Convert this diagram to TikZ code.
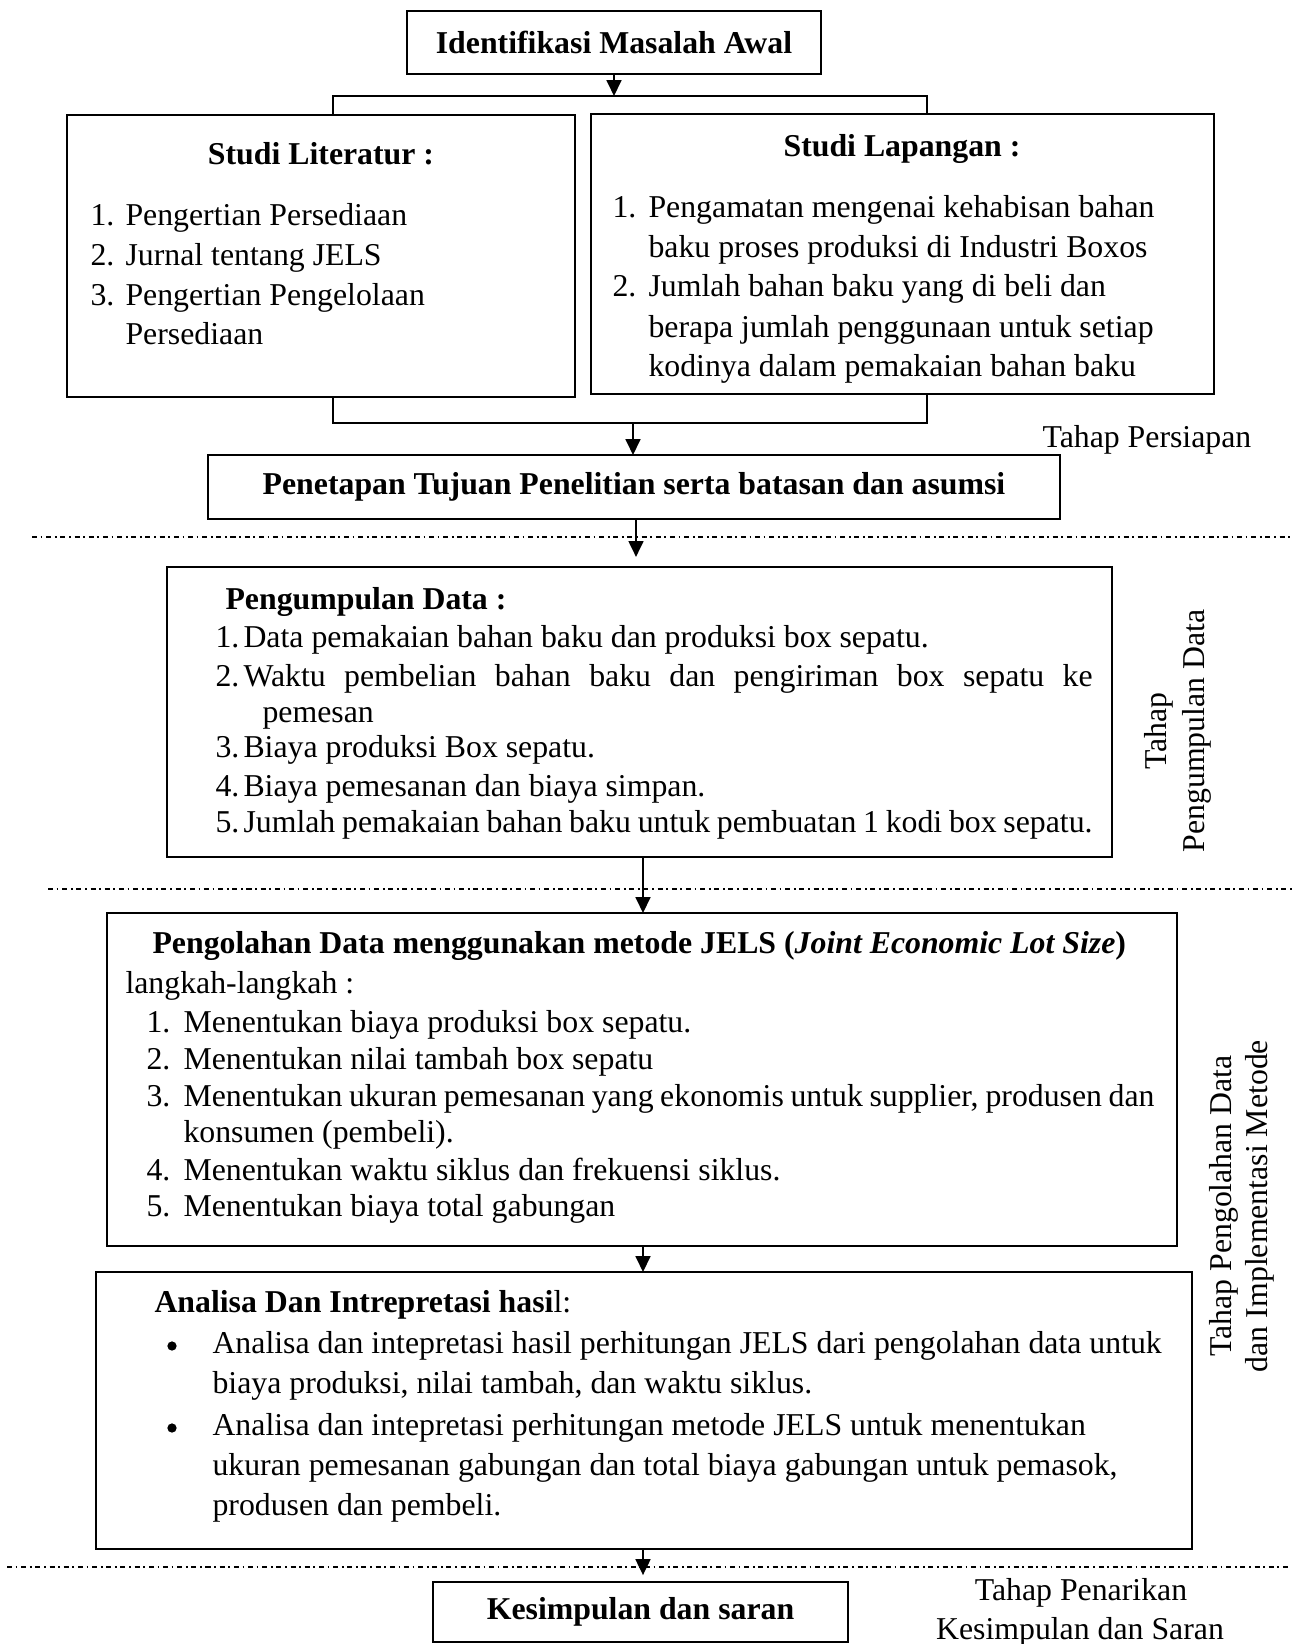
\documentclass[tikz,border=0pt]{standalone}
\usepackage{fontspec}
\setmainfont{Liberation Serif}
\usetikzlibrary{arrows.meta}
\newdimen\pxd \pxd=0.3774pt
\newcommand\myfs{\fontsize{12pt}{14.4pt}\selectfont}
\begin{document}
\begin{tikzpicture}[x=0.3774pt,y=-0.3774pt,
  bx/.style n args={2}{draw, line width=0.9pt, inner sep=0pt, outer sep=0pt, anchor=north west, minimum width=#1*0.3774pt, minimum height=#2*0.3774pt, font=\myfs\bfseries},
  tx/.style={inner sep=0pt, anchor=base west, font=\myfs},
  tc/.style={inner sep=0pt, anchor=base, font=\myfs},
  tbf/.style={inner sep=0pt, anchor=base west, font=\myfs\bfseries},
  bul/.style={circle, fill=black, inner sep=0pt, minimum size=3.5pt},
  ln/.style={line width=0.8pt},
  arr/.style={line width=0.8pt, -{Triangle[width=5.6pt,length=6pt]}},
  sep/.style={line width=0.5pt, dash pattern=on 1.9pt off 1.4pt on 0.65pt off 1.4pt},
  rot/.style={inner sep=0pt, anchor=base, rotate=90, font=\myfs}]
\useasboundingbox (0,0) rectangle (1307,1644);

% separators
\coordinate (s1a) at (32,537);  \coordinate (s1b) at (1293,537);
\coordinate (s2a) at (48,889);  \coordinate (s2b) at (1293,889);
\coordinate (s3a) at (7,1567);  \coordinate (s3b) at (1290,1567);
\draw[sep] (s1a) -- (s1b);
\draw[sep] (s2a) -- (s2b);
\draw[sep] (s3a) -- (s3b);

% boxes
\node[bx={414}{63}] (b1) at (407,11) {Identifikasi Masalah Awal};
\node[bx={508}{282}] (lit) at (67,115) {};
\node[bx={623}{280}] (lap) at (591,114) {};
\node[bx={852}{64}] (tuj) at (208,455) {Penetapan Tujuan Penelitian serta batasan dan asumsi};
\node[bx={945}{290}] (kum) at (167,567) {};
\node[bx={1070}{333}] (olah) at (107,913) {};
\node[bx={1096}{277}] (ana) at (96,1272) {};
\node[bx={415}{60}] (kes) at (433,1582) {Kesimpulan dan saran};

% Studi Literatur
\node[tc, font=\myfs\bfseries] (litT) at (321,164) {Studi Literatur :};
\node[tx] (lit1n) at (90,225) {1.};
\node[tx] (lit1t) at (125,225) {Pengertian Persediaan};
\node[tx] (lit2n) at (90,265) {2.};
\node[tx] (lit2t) at (125,265) {Jurnal tentang JELS};
\node[tx] (lit3n) at (90,305) {3.};
\node[tx] (lit3t) at (125,305) {Pengertian Pengelolaan};
\node[tx] (lit3c) at (125,344) {Persediaan};

% Studi Lapangan
\node[tc, font=\myfs\bfseries] (lapT) at (902,156) {Studi Lapangan :};
\node[tx] (lap1n) at (612,217) {1.};
\node[tx] (lap1t) at (648,217) {Pengamatan mengenai kehabisan bahan};
\node[tx] (lap1c) at (648,257) {baku proses produksi di Industri Boxos};
\node[tx] (lap2n) at (612,296) {2.};
\node[tx] (lap2t) at (648,296) {Jumlah bahan baku yang di beli dan};
\node[tx] (lap2c) at (648,337) {berapa jumlah penggunaan untuk setiap};
\node[tx] (lap2d) at (648,376) {kodinya dalam pemakaian bahan baku};

\node[tx] (tpers) at (1042,447) {Tahap Persiapan};

% Pengumpulan Data
\node[tbf] (kumT) at (225,609) {Pengumpulan Data :};
\node[tx] (kum1n) at (215,647) {1.};
\node[tx] (kum1t) at (243,647) {Data pemakaian bahan baku dan produksi box sepatu.};
\node[tx] (kum2n) at (215,686) {2.};
\node[tx] (kum2t) at (243,686) {\makebox[849\pxd][s]{Waktu pembelian bahan baku dan pengiriman box sepatu ke}};
\node[tx] (kum2c) at (262,722) {pemesan};
\node[tx] (kum3n) at (215,757) {3.};
\node[tx] (kum3t) at (243,757) {Biaya produksi Box sepatu.};
\node[tx] (kum4n) at (215,796) {4.};
\node[tx] (kum4t) at (243,796) {Biaya pemesanan dan biaya simpan.};
\node[tx] (kum5n) at (215,832) {5.};
\node[tx] (kum5t) at (243,832) {\makebox[849\pxd][s]{Jumlah pemakaian bahan baku untuk pembuatan 1 kodi box sepatu.}};

\node[rot] (tk1) at (1166,731) {Tahap};
\node[rot] (tk2) at (1204,731) {Pengumpulan Data};

% Pengolahan Data
\node[tbf] (olahT) at (152,953) {Pengolahan Data menggunakan metode JELS (\textit{Joint Economic Lot Size})};
\node[tx] (olahL) at (125,993) {langkah-langkah :};
\node[tx] (olah1n) at (146,1032) {1.};
\node[tx] (olah1t) at (183,1032) {Menentukan biaya produksi box sepatu.};
\node[tx] (olah2n) at (146,1069) {2.};
\node[tx] (olah2t) at (183,1069) {Menentukan nilai tambah box sepatu};
\node[tx] (olah3n) at (146,1106) {3.};
\node[tx] (olah3t) at (183,1106) {\makebox[971\pxd][s]{Menentukan ukuran pemesanan yang ekonomis untuk supplier, produsen dan}};
\node[tx] (olah3c) at (183,1142) {konsumen (pembeli).};
\node[tx] (olah4n) at (146,1180) {4.};
\node[tx] (olah4t) at (183,1180) {Menentukan waktu siklus dan frekuensi siklus.};
\node[tx] (olah5n) at (146,1216) {5.};
\node[tx] (olah5t) at (183,1216) {Menentukan biaya total gabungan};

\node[rot] (to1) at (1231,1206) {Tahap Pengolahan Data};
\node[rot] (to2) at (1267,1206) {dan Implementasi Metode};

% Analisa
\node[tx] (anaT) at (154,1312) {\textbf{Analisa Dan Intrepretasi hasi}l:};
\node[bul] (ana1b) at (172,1346) {};
\node[tx] (ana1t) at (212,1353) {Analisa dan intepretasi hasil perhitungan JELS dari pengolahan data untuk};
\node[tx] (ana1c) at (212,1393) {biaya produksi, nilai tambah, dan waktu siklus.};
\node[bul] (ana2b) at (172,1428) {};
\node[tx] (ana2t) at (212,1435) {Analisa dan intepretasi perhitungan metode JELS untuk menentukan};
\node[tx] (ana2c) at (212,1475) {ukuran pemesanan gabungan dan total biaya gabungan untuk pemasok,};
\node[tx] (ana2d) at (212,1515) {produsen dan pembeli.};

\node[tc] (tpen1) at (1081,1600) {Tahap Penarikan};
\node[tc] (tpen2) at (1080,1639) {Kesimpulan dan Saran};

% connectors
\coordinate (jt) at (614,96);
\coordinate (jl) at (333,96);
\coordinate (jr) at (927,96);
\draw[arr] (b1.south) -- (jt);
\draw[ln] (lit.north -| jl) -- (jl) -- (jr) -- (lap.north -| jr);
\coordinate (kl) at (333,423);
\coordinate (kr) at (927,423);
\coordinate (km) at (633,423);
\draw[ln] (lit.south -| kl) -- (kl) -- (kr) -- (lap.south -| kr);
\draw[arr] (km) -- (tuj.north -| km);
\coordinate (a3) at (636,0);
\draw[arr, shorten >=3.8pt] (tuj.south -| a3) -- (kum.north -| a3);
\coordinate (a4) at (643,0);
\draw[arr] (kum.south -| a4) -- (olah.north -| a4);
\draw[arr] (olah.south -| a4) -- (ana.north -| a4);
\draw[arr, shorten >=2.6pt] (ana.south -| a4) -- (kes.north -| a4);
\end{tikzpicture}
\end{document}
